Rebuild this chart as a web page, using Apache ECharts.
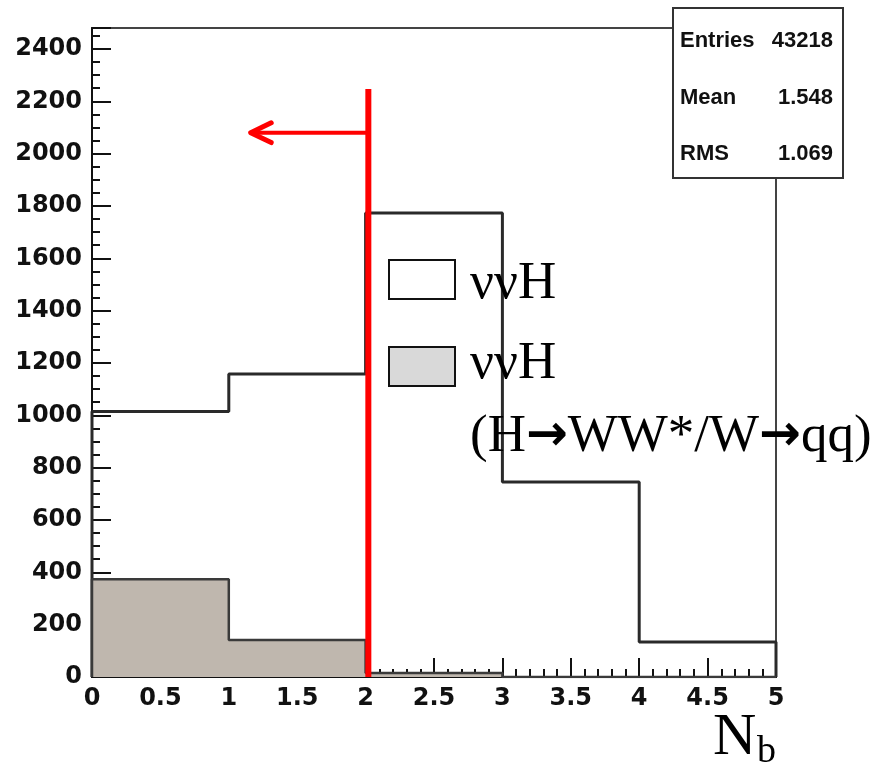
<!DOCTYPE html>
<html>
<head>
<meta charset="utf-8">
<script src="https://cdn.jsdelivr.net/npm/echarts@6/dist/echarts.min.js"></script>
<style>
  html, body { margin: 0; padding: 0; background: #ffffff; }
  #main { width: 896px; height: 767px; }
</style>
</head>
<body>
<div id="main"></div>
<script>
// Histogram binning in N_b (number of b-tagged jets)
const binEdges = [0, 1, 2, 3, 4, 5];
// All nuNuH events per bin
const allCounts = [1015, 1158, 1773, 745, 134];
// nuNuH with H->WW*/W->qq per bin
const wwCounts = [374, 141, 15, 0, 0];

// Statistics box contents
const statNames = ['Entries', 'Mean', 'RMS'];
const statValues = ['43218', '1.548', '1.069'];

// Selection cut and the arrow showing the kept side
const cutValue = 2.02;
const cutTop = 2247;
const arrowY = 2080;
const arrowTip = 1.16;
const arrowHeadDx = 0.15;
const arrowHeadDy = 38;

// Outline points of a step histogram, closed down to zero at both ends
function outline(edges, counts) {
  const pts = [[edges[0], 0]];
  for (let i = 0; i < counts.length; i++) {
    pts.push([edges[i], counts[i]]);
    pts.push([edges[i + 1], counts[i]]);
  }
  pts.push([edges[edges.length - 1], 0]);
  return pts;
}

const chart = echarts.init(document.getElementById('main'), null, { renderer: 'canvas' });

const labelFont = { fontFamily: 'DejaVu Sans', fontWeight: 'bold', fontSize: 24, color: '#111' };

const option = {
  backgroundColor: '#ffffff',
  animation: false,
  grid: {
    left: 92, right: 120, top: 28, bottom: 90,
    show: true, borderColor: '#444', borderWidth: 2, backgroundColor: 'transparent'
  },
  xAxis: {
    type: 'value', min: 0, max: 5, interval: 0.5,
    axisLine: { show: true, onZero: false, lineStyle: { color: '#111', width: 2 } },
    axisTick: { show: true, inside: true, length: 19, lineStyle: { color: '#111', width: 2 } },
    minorTick: { show: true, splitNumber: 5, length: 8, lineStyle: { color: '#111', width: 2 } },
    splitLine: { show: false },
    axisLabel: Object.assign({ margin: 10 }, labelFont)
  },
  yAxis: {
    type: 'value', min: 0, max: 2480, interval: 200,
    axisLine: { show: true, onZero: false, lineStyle: { color: '#111', width: 2 } },
    axisTick: { show: true, inside: true, length: 19, lineStyle: { color: '#111', width: 2 } },
    minorTick: { show: true, splitNumber: 4, length: 8, lineStyle: { color: '#111', width: 2 } },
    splitLine: { show: false },
    axisLabel: Object.assign({
      margin: 10,
      formatter: function (v) { return (Math.round(v) % 200 === 0) ? String(Math.round(v)) : ''; }
    }, labelFont)
  },
  series: [
    {
      type: 'line', name: 'all', data: outline(binEdges, allCounts),
      symbol: 'none', z: 2,
      lineStyle: { color: '#2a2a2a', width: 3 }
    },
    {
      type: 'line', name: 'ww', data: outline(binEdges, wwCounts),
      symbol: 'none', z: 3,
      lineStyle: { color: '#3a3a3a', width: 2.5 },
      areaStyle: { color: '#bfb7ae', opacity: 1 }
    },
    {
      type: 'line', name: 'cut', data: [[cutValue, 0], [cutValue, cutTop]],
      symbol: 'none', z: 5,
      lineStyle: { color: '#ff0000', width: 6 }
    },
    {
      type: 'line', name: 'arrowShaft', data: [[cutValue, arrowY], [arrowTip, arrowY]],
      symbol: 'none', z: 5,
      lineStyle: { color: '#ff0000', width: 4 }
    },
    {
      type: 'line', name: 'arrowHead',
      data: [[arrowTip + arrowHeadDx, arrowY + arrowHeadDy], [arrowTip, arrowY], [arrowTip + arrowHeadDx, arrowY - arrowHeadDy]],
      symbol: 'none', z: 5,
      lineStyle: { color: '#ff0000', width: 5, cap: 'round', join: 'round' }
    }
  ],
  graphic: [
    // statistics box
    {
      type: 'rect', shape: { x: 673, y: 8, width: 170, height: 170 }, z: 100,
      style: { fill: '#ffffff', stroke: '#333', lineWidth: 2 }
    },
    ...statNames.map((n, i) => ({
      type: 'text', z: 101, x: 680, y: 41 + i * 56.5,
      style: { text: n, font: 'bold 22px "Liberation Sans"', fill: '#111', verticalAlign: 'middle', align: 'left' }
    })),
    ...statValues.map((v, i) => ({
      type: 'text', z: 101, x: 833, y: 41 + i * 56.5,
      style: { text: v, font: 'bold 22px "Liberation Sans"', fill: '#111', verticalAlign: 'middle', align: 'right' }
    })),
    // legend
    {
      type: 'rect', shape: { x: 389, y: 260, width: 66, height: 39 }, z: 100,
      style: { fill: '#ffffff', stroke: '#111', lineWidth: 2 }
    },
    {
      type: 'rect', shape: { x: 389, y: 347, width: 66, height: 39 }, z: 100,
      style: { fill: '#d9d9d9', stroke: '#111', lineWidth: 2 }
    },
    {
      type: 'text', z: 101, x: 470, y: 284,
      style: { text: 'ννH', font: '53px "Liberation Serif"', fill: '#000', verticalAlign: 'middle' }
    },
    {
      type: 'text', z: 101, x: 470, y: 364,
      style: { text: 'ννH', font: '53px "Liberation Serif"', fill: '#000', verticalAlign: 'middle' }
    },
    {
      type: 'text', z: 101, x: 470, y: 437,
      style: {
        text: '{t|(H}{a|→}{t|WW*/W}{a|→}{t|qq)}',
        verticalAlign: 'middle',
        rich: {
          t: { fontFamily: 'Liberation Serif', fontSize: 53, fill: '#000', color: '#000' },
          a: { fontFamily: 'DejaVu Sans', fontWeight: 'bold', fontSize: 50, fill: '#000', color: '#000' }
        }
      }
    },
    // axis title
    {
      type: 'text', z: 101, x: 713, y: 738,
      style: { text: 'N', font: '60px "Liberation Serif"', fill: '#000', verticalAlign: 'middle' }
    },
    {
      type: 'text', z: 101, x: 757, y: 752,
      style: { text: 'b', font: '38px "Liberation Serif"', fill: '#000', verticalAlign: 'middle' }
    }
  ]
};

chart.setOption(option);
</script>
</body>
</html>
